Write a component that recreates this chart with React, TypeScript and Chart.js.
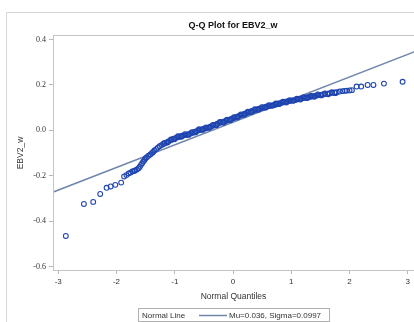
import React, { useEffect, useRef } from "react";
import { Chart, registerables } from "chart.js";

Chart.register(...registerables);

const chartTitle = "Q-Q Plot for EBV2_w";
const xAxisTitle = "Normal Quantiles";
const yAxisTitle = "EBV2_w";
const legendTitle = "Normal Line";
const legendLabel = "Mu=0.036, Sigma=0.0997";

// Fitted normal line end points
const normalLineX = [-3.1, 3.2];
const normalLineY = [-0.273, 0.355];

// Q-Q points: normal quantile (x) and ordered value (y)
const qqX = [
  -2.87, -2.56, -2.4, -2.28, -2.17, -2.1, -2.02, -1.92, -1.87, -1.83, -1.79, -1.76, -1.73, -1.7,
  -1.68, -1.65, -1.62, -1.6, -1.58, -1.56, -1.54, -1.52, -1.5, -1.48, -1.45, -1.42, -1.39, -1.37,
  -1.35, -1.32, -1.29, -1.26, -1.23, -1.2, -1.17, -1.14, -1.11, -1.08, -1.05, -1.02, -0.99, -0.96,
  -0.93, -0.9, -0.87, -0.84, -0.81, -0.78, -0.75, -0.72, -0.69, -0.66, -0.63, -0.6, -0.57, -0.54,
  -0.51, -0.48, -0.45, -0.42, -0.39, -0.36, -0.33, -0.3, -0.27, -0.24, -0.21, -0.18, -0.15, -0.12,
  -0.09, -0.06, -0.03, 0.0, 0.03, 0.06, 0.09, 0.12, 0.15, 0.18, 0.21, 0.24, 0.27, 0.3, 0.33, 0.36,
  0.39, 0.42, 0.45, 0.48, 0.51, 0.54, 0.57, 0.6, 0.63, 0.66, 0.69, 0.72, 0.75, 0.78, 0.81, 0.84,
  0.87, 0.9, 0.93, 0.96, 0.99, 1.02, 1.05, 1.08, 1.11, 1.14, 1.17, 1.2, 1.23, 1.26, 1.29, 1.32,
  1.35, 1.38, 1.41, 1.44, 1.47, 1.5, 1.54, 1.58, 1.62, 1.66, 1.7, 1.74, 1.78, 1.83, 1.88, 1.92,
  1.95, 2.0, 2.04, 2.12, 2.2, 2.31, 2.41, 2.59, 2.91,
];
const qqY = [
  -0.465, -0.324, -0.315, -0.28, -0.253, -0.247, -0.24, -0.23, -0.203, -0.197, -0.19, -0.186, -0.181, -0.179,
  -0.177, -0.172, -0.167, -0.16, -0.152, -0.145, -0.137, -0.13, -0.123, -0.118, -0.112, -0.106, -0.1, -0.095,
  -0.089, -0.083, -0.076, -0.07, -0.065, -0.061, -0.057, -0.053, -0.049, -0.045, -0.041, -0.037, -0.034, -0.031,
  -0.029, -0.026, -0.024, -0.022, -0.02, -0.018, -0.016, -0.013, -0.01, -0.007, -0.004, -0.001, 0.002, 0.004,
  0.006, 0.008, 0.01, 0.013, 0.016, 0.019, 0.022, 0.025, 0.029, 0.032, 0.035, 0.037, 0.039, 0.042,
  0.044, 0.047, 0.05, 0.053, 0.056, 0.059, 0.062, 0.065, 0.068, 0.071, 0.074, 0.077, 0.08, 0.083, 0.085, 0.088,
  0.09, 0.093, 0.095, 0.097, 0.1, 0.102, 0.104, 0.106, 0.108, 0.11, 0.111, 0.113, 0.115, 0.118, 0.12, 0.122,
  0.124, 0.126, 0.127, 0.129, 0.13, 0.132, 0.133, 0.135, 0.137, 0.138, 0.14, 0.142, 0.143, 0.145, 0.146, 0.148,
  0.149, 0.151, 0.152, 0.154, 0.155, 0.156, 0.158, 0.16, 0.162, 0.164, 0.165, 0.167, 0.168, 0.171, 0.173, 0.174,
  0.175, 0.176, 0.177, 0.193, 0.193, 0.2, 0.2, 0.206, 0.214,
];

// Extra points in the dense central band (read from its spread)
const qqBandX = [
  -1.185, -1.125, -1.065, -1.005, -0.945, -0.885, -0.825, -0.765, -0.705, -0.645, -0.585, -0.525, -0.465,
  -0.405, -0.345, -0.285, -0.225, -0.165, -0.105, -0.045, 0.015, 0.075, 0.135, 0.195, 0.255, 0.315,
  0.375, 0.435, 0.495, 0.555, 0.615, 0.675, 0.735, 0.795, 0.855, 0.915, 0.975, 1.035, 1.095, 1.155,
  1.215, 1.275, 1.335, 1.395, 1.455, 1.515, 1.575, 1.635, 1.695, 1.755,
];
const qqBandY = [
  -0.056, -0.054, -0.04, -0.039, -0.026, -0.028, -0.017, -0.02, -0.008, -0.009, 0.005, 0.002, 0.013,
  0.011, 0.024, 0.023, 0.037, 0.034, 0.047, 0.045, 0.058, 0.057, 0.07, 0.069, 0.082, 0.081,
  0.093, 0.091, 0.102, 0.1, 0.111, 0.108, 0.118, 0.116, 0.126, 0.123, 0.133, 0.13, 0.139, 0.136,
  0.146, 0.142, 0.152, 0.148, 0.158, 0.154, 0.163, 0.159, 0.168, 0.164,
];

const LINE_COLOR = "#6f86ad";
const POINT_COLOR = "#1f45b0";
const SANS = "'Liberation Sans', Arial, sans-serif";

const decorPlugin = {
  id: "decor",
  beforeDraw(chart: any) {
    const ctx = chart.ctx;
    ctx.save();
    ctx.fillStyle = "#ffffff";
    ctx.fillRect(0, 0, chart.width, chart.height);
    ctx.strokeStyle = "#d6d6d6";
    ctx.lineWidth = 1;
    ctx.beginPath();
    ctx.moveTo(6.5, chart.height);
    ctx.lineTo(6.5, 12.5);
    ctx.lineTo(chart.width, 12.5);
    ctx.stroke();
    ctx.restore();
  },
  afterDraw(chart: any) {
    const ctx = chart.ctx;
    const a = chart.chartArea;
    ctx.save();
    ctx.strokeStyle = "#c4c4c4";
    ctx.lineWidth = 1;
    ctx.strokeRect(Math.round(a.left) + 0.5, Math.round(a.top) + 0.5, a.right - a.left, a.bottom - a.top);
    ctx.fillStyle = "#111";
    ctx.textAlign = "center";
    ctx.textBaseline = "middle";
    ctx.font = `bold 9px ${SANS}`;
    ctx.fillText(chartTitle, 233, 26);
    ctx.fillStyle = "#333";
    ctx.font = `8.5px ${SANS}`;
    ctx.fillText(xAxisTitle, 233.5, 297);
    ctx.save();
    ctx.translate(21, 153);
    ctx.rotate(-Math.PI / 2);
    ctx.fillText(yAxisTitle, 0, 0);
    ctx.restore();
    ctx.strokeStyle = "#b0b0b0";
    ctx.strokeRect(138.5, 308.5, 191, 13);
    ctx.textAlign = "left";
    ctx.fillStyle = "#333";
    ctx.font = `8px ${SANS}`;
    ctx.fillText(legendTitle, 142, 315.5);
    ctx.strokeStyle = LINE_COLOR;
    ctx.lineWidth = 1.5;
    ctx.beginPath();
    ctx.moveTo(199, 315.5);
    ctx.lineTo(227, 315.5);
    ctx.stroke();
    ctx.fillText(legendLabel, 229, 315.5);
    ctx.restore();
  },
};

export default function App() {
  const ref = useRef<HTMLCanvasElement | null>(null);
  useEffect(() => {
    if (!ref.current) return;
    const points = qqX
      .map((x, i) => ({ x, y: qqY[i] }))
      .concat(qqBandX.map((x, i) => ({ x, y: qqBandY[i] })));
    const chart = new Chart(ref.current, {
      type: "scatter",
      data: {
        datasets: [
          {
            type: "line",
            label: legendLabel,
            data: normalLineX.map((x, i) => ({ x, y: normalLineY[i] })),
            borderColor: LINE_COLOR,
            borderWidth: 1.5,
            pointRadius: 0,
            fill: false,
            order: 2,
          } as any,
          {
            label: "EBV2_w",
            data: points,
            pointStyle: "circle",
            pointRadius: 2.4,
            borderColor: POINT_COLOR,
            backgroundColor: "rgba(0,0,0,0)",
            borderWidth: 1.1,
            order: 1,
          },
        ],
      },
      options: {
        animation: false,
        responsive: false,
        layout: { padding: { left: 0, top: 35, right: 4, bottom: 0 } },
        plugins: {
          legend: { display: false },
          title: { display: false },
          tooltip: { enabled: false },
        },
        scales: {
          x: {
            type: "linear",
            min: -3.09,
            max: 3.19,
            afterFit: (s: any) => {
              s.height = 52;
            },
            ticks: {
              stepSize: 1,
              includeBounds: false,
              color: "#333",
              font: { size: 8, family: SANS },
              padding: 3,
              maxRotation: 0,
            },
            grid: { drawOnChartArea: false, tickLength: 4, color: "#b8b8b8" },
            border: { color: "#c4c4c4" },
          },
          y: {
            type: "linear",
            min: -0.615,
            max: 0.42,
            afterFit: (s: any) => {
              s.width = 53;
            },
            ticks: {
              stepSize: 0.2,
              includeBounds: false,
              color: "#333",
              font: { size: 8, family: "'Liberation Serif', serif" },
              padding: 3,
              callback: (v: any) => Number(v).toFixed(1),
            },
            grid: { drawOnChartArea: false, tickLength: 4, color: "#b8b8b8" },
            border: { color: "#c4c4c4" },
          },
        },
      },
      plugins: [decorPlugin],
    });
    return () => chart.destroy();
  }, []);
  return (
    <div style={{ position: "absolute", left: 0, top: 0, width: 414, height: 322, overflow: "hidden", background: "#fff" }}>
      <canvas ref={ref} width={424} height={322} style={{ display: "block", width: 424, height: 322 }} />
    </div>
  );
}
